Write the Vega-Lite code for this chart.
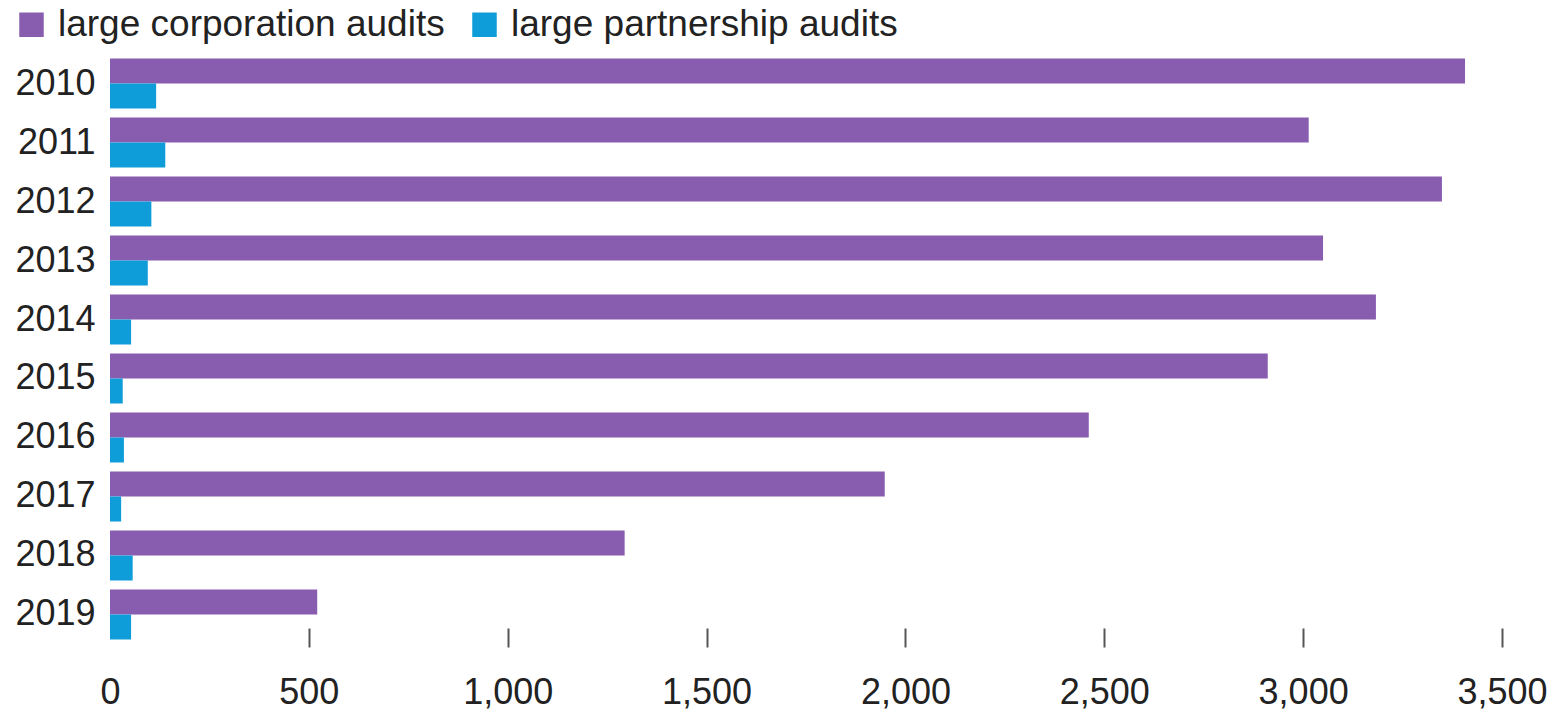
{
  "$schema": "https://vega.github.io/schema/vega-lite/v6.json",
  "autosize": {"type": "none"},
  "padding": {"left": 110, "top": 54, "right": 48, "bottom": 66},
  "width": 1392,
  "height": 590,
  "background": "white",
  "data": {
    "values": [
      {"year": "2010", "series": "large corporation audits", "audits": 3407},
      {"year": "2010", "series": "large partnership audits", "audits": 116},
      {"year": "2011", "series": "large corporation audits", "audits": 3014},
      {"year": "2011", "series": "large partnership audits", "audits": 139},
      {"year": "2012", "series": "large corporation audits", "audits": 3349},
      {"year": "2012", "series": "large partnership audits", "audits": 104},
      {"year": "2013", "series": "large corporation audits", "audits": 3050},
      {"year": "2013", "series": "large partnership audits", "audits": 95},
      {"year": "2014", "series": "large corporation audits", "audits": 3183},
      {"year": "2014", "series": "large partnership audits", "audits": 53},
      {"year": "2015", "series": "large corporation audits", "audits": 2911},
      {"year": "2015", "series": "large partnership audits", "audits": 32},
      {"year": "2016", "series": "large corporation audits", "audits": 2461},
      {"year": "2016", "series": "large partnership audits", "audits": 35},
      {"year": "2017", "series": "large corporation audits", "audits": 1948},
      {"year": "2017", "series": "large partnership audits", "audits": 28},
      {"year": "2018", "series": "large corporation audits", "audits": 1294},
      {"year": "2018", "series": "large partnership audits", "audits": 57},
      {"year": "2019", "series": "large corporation audits", "audits": 521},
      {"year": "2019", "series": "large partnership audits", "audits": 53}
    ]
  },
  "mark": {"type": "bar"},
  "encoding": {
    "y": {
      "field": "year",
      "type": "nominal",
      "sort": null,
      "scale": {"paddingInner": 0.1525, "paddingOuter": 0.0763},
      "axis": {
        "title": null,
        "domain": false,
        "ticks": false,
        "tickSize": 0,
        "labelPadding": 15,
        "labelFontSize": 36,
        "labelFont": "Liberation Sans",
        "labelColor": "#222222"
      }
    },
    "yOffset": {
      "field": "series",
      "type": "nominal",
      "sort": ["large corporation audits", "large partnership audits"],
      "scale": {"paddingInner": 0, "paddingOuter": 0}
    },
    "x": {
      "field": "audits",
      "type": "quantitative",
      "scale": {"domain": [0, 3500], "nice": false},
      "axis": {
        "title": null,
        "domain": false,
        "grid": false,
        "values": [0, 500, 1000, 1500, 2000, 2500, 3000, 3500],
        "format": ",d",
        "offset": -16,
        "tickSize": 19,
        "tickWidth": 2,
        "tickColor": {"condition": {"test": "datum.value === 0", "value": "transparent"}, "value": "#555555"},
        "labelPadding": 28,
        "labelFontSize": 36,
        "labelFont": "Liberation Sans",
        "labelColor": "#222222",
        "labelFlush": false
      }
    },
    "color": {
      "field": "series",
      "type": "nominal",
      "scale": {
        "domain": ["large corporation audits", "large partnership audits"],
        "range": ["#885DB0", "#0F9DDA"]
      },
      "legend": {
        "title": null,
        "orient": "none",
        "legendX": -97,
        "legendY": -48,
        "direction": "horizontal",
        "symbolType": "square",
        "symbolSize": 600,
        "symbolStrokeWidth": 0,
        "labelFontSize": 37,
        "labelFont": "Liberation Sans",
        "labelColor": "#222222",
        "labelOffset": 8,
        "columnPadding": 21,
        "padding": 0,
        "labelLimit": 0
      }
    }
  },
  "config": {"view": {"stroke": null}}
}
